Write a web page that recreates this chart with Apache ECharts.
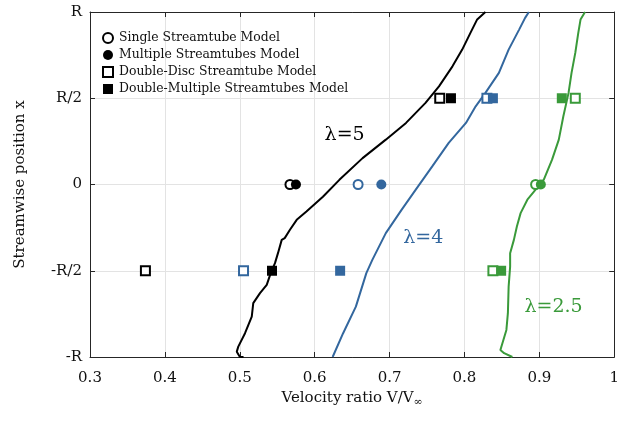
<!DOCTYPE html>
<html>
<head>
<meta charset="utf-8">
<script src="https://cdn.jsdelivr.net/npm/echarts@6/dist/echarts.min.js"></script>
<style>
  html, body { margin: 0; padding: 0; background: #fff; }
  #chart { width: 622px; height: 423px; }
</style>
</head>
<body>
<div id="chart"></div>
<script>
// velocity ratio profiles along the streamwise position, three tip speed ratios
const yTickValues = [-1, -0.5, 0, 0.5, 1];
const yTickLabels = ['-R', '-R/2', '0', 'R/2', 'R'];

const curveNames = ['λ=5', 'λ=4', 'λ=2.5'];
const curveColors = ['#000000', '#33679e', '#3a9a3a'];

// [V/Vinf, x/R]
const curve5 = [
  [0.505, -1.0], [0.500, -0.999], [0.496, -0.969], [0.498, -0.940], [0.507, -0.862],
  [0.516, -0.766], [0.518, -0.688], [0.527, -0.630], [0.536, -0.582], [0.542, -0.505],
  [0.547, -0.456], [0.551, -0.398], [0.556, -0.321], [0.560, -0.311], [0.567, -0.262],
  [0.576, -0.205], [0.589, -0.157], [0.611, -0.071], [0.633, 0.027], [0.664, 0.153],
  [0.695, 0.260], [0.722, 0.357], [0.748, 0.473], [0.766, 0.569], [0.784, 0.685],
  [0.797, 0.782], [0.808, 0.879], [0.817, 0.957], [0.828, 1.0]
];
const curve4 = [
  [0.624, -1.0], [0.638, -0.862], [0.655, -0.708], [0.669, -0.514], [0.677, -0.437],
  [0.695, -0.282], [0.716, -0.147], [0.735, -0.030], [0.757, 0.105], [0.779, 0.241],
  [0.802, 0.357], [0.815, 0.453], [0.828, 0.531], [0.846, 0.647], [0.859, 0.782],
  [0.873, 0.898], [0.881, 0.966], [0.886, 1.0]
];
const curve25 = [
  [0.864, -1.0], [0.853, -0.978], [0.848, -0.959], [0.856, -0.843], [0.858, -0.746],
  [0.859, -0.592], [0.861, -0.476], [0.861, -0.399], [0.866, -0.321], [0.870, -0.243],
  [0.875, -0.166], [0.884, -0.088], [0.895, -0.030], [0.906, 0.028], [0.917, 0.144],
  [0.926, 0.260], [0.932, 0.394], [0.939, 0.531], [0.943, 0.647], [0.948, 0.763],
  [0.952, 0.879], [0.955, 0.956], [0.961, 1.0]
];

// model results, one value per curve (λ=5, λ=4, λ=2.5)
const singleAt0 = [0.567, 0.658, 0.895];
const multipleAt0 = [0.575, 0.689, 0.902];
const ddsAtHalf = [0.767, 0.830, 0.948];
const ddsAtMinusHalf = [0.374, 0.505, 0.838];
const dmsAtHalf = [0.782, 0.838, 0.930];
const dmsAtMinusHalf = [0.543, 0.634, 0.849];

// label anchors for the curves
const curveLabelPos = [[0.640, 0.288], [0.745, -0.312], [0.919, -0.713]];

const FONT = 'DejaVu Serif';

function markers(groups, filled) {
  const out = [];
  groups.forEach((g) => {
    g.xs.forEach((x, i) => {
      out.push({
        value: [x, g.y],
        itemStyle: filled
          ? { color: curveColors[i], opacity: 1 }
          : { color: '#ffffff', borderColor: curveColors[i], borderWidth: 2, opacity: 1 },
      });
    });
  });
  return out;
}

const chart = echarts.init(document.getElementById('chart'));

const axisLineStyle = { color: '#262626', width: 1 };

const lineSeries = [curve5, curve4, curve25].map((d, i) => ({
  type: 'line',
  data: d,
  showSymbol: false,
  symbol: 'none',
  lineStyle: { color: curveColors[i], width: 2 },
  silent: true,
  z: 2,
  markPoint: {
    symbol: 'circle',
    symbolSize: 1,
    itemStyle: { color: 'rgba(0,0,0,0)' },
    label: {
      show: true,
      position: 'inside',
      formatter: curveNames[i],
      color: curveColors[i],
      fontFamily: FONT,
      fontSize: 19,
    },
    data: [{ coord: curveLabelPos[i] }],
  },
}));

const option = {
  animation: false,
  grid: { left: 90, right: 6, top: 12, bottom: 66 },
  legend: {
    orient: 'vertical',
    left: 97,
    top: 27,
    itemWidth: 10,
    itemHeight: 10,
    itemGap: 5,
    textStyle: { fontFamily: FONT, fontSize: 12.4, color: '#111', padding: [0, 0, 0, 1] },
    data: [
      'Single Streamtube Model',
      'Multiple Streamtubes Model',
      'Double-Disc Streamtube Model',
      'Double-Multiple Streamtubes Model',
    ],
  },
  xAxis: [
    {
      type: 'value',
      min: 0.3,
      max: 1,
      interval: 0.1,
      name: 'Velocity ratio V/V{sub|∞}',
      nameLocation: 'middle',
      nameGap: 30,
      nameTextStyle: {
        fontFamily: FONT,
        fontSize: 15,
        color: '#111',
        rich: { sub: { fontFamily: FONT, fontSize: 11, color: '#111', padding: [7, 0, 0, 0] } },
      },
      axisLine: { show: true, onZero: false, lineStyle: axisLineStyle },
      axisTick: { show: true, inside: true, length: 5, lineStyle: axisLineStyle },
      axisLabel: { fontFamily: FONT, fontSize: 15, color: '#111', margin: 14 },
      splitLine: { show: true, lineStyle: { color: '#e3e3e3', width: 1 } },
    },
    {
      type: 'value',
      position: 'top',
      min: 0.3,
      max: 1,
      interval: 0.1,
      axisLine: { show: true, onZero: false, lineStyle: axisLineStyle },
      axisTick: { show: true, inside: true, length: 5, lineStyle: axisLineStyle },
      axisLabel: { show: false },
      splitLine: { show: false },
    },
  ],
  yAxis: [
    {
      type: 'value',
      min: -1,
      max: 1,
      interval: 0.5,
      name: 'Streamwise position x',
      nameLocation: 'middle',
      nameGap: 62,
      nameTextStyle: { fontFamily: FONT, fontSize: 15, color: '#111' },
      axisLine: { show: true, onZero: false, lineStyle: axisLineStyle },
      axisTick: { show: true, inside: true, length: 5, lineStyle: axisLineStyle },
      axisLabel: {
        fontFamily: FONT,
        fontSize: 15,
        color: '#111',
        margin: 8,
        formatter: (v) => {
          const k = yTickValues.findIndex((t) => Math.abs(t - v) < 1e-6);
          return k >= 0 ? yTickLabels[k] : '';
        },
      },
      splitLine: { show: true, lineStyle: { color: '#e3e3e3', width: 1 } },
    },
    {
      type: 'value',
      position: 'right',
      min: -1,
      max: 1,
      interval: 0.5,
      axisLine: { show: true, onZero: false, lineStyle: axisLineStyle },
      axisTick: { show: true, inside: true, length: 5, lineStyle: axisLineStyle },
      axisLabel: { show: false },
      splitLine: { show: false },
    },
  ],
  series: [
    ...lineSeries,
    {
      name: 'Single Streamtube Model',
      type: 'scatter',
      symbol: 'circle',
      symbolSize: 9,
      itemStyle: { color: '#ffffff', borderColor: '#000000', borderWidth: 2, opacity: 1 },
      data: markers([{ xs: singleAt0, y: 0 }], false),
      z: 3,
    },
    {
      name: 'Multiple Streamtubes Model',
      type: 'scatter',
      symbol: 'circle',
      symbolSize: 10,
      itemStyle: { color: '#000000', opacity: 1 },
      data: markers([{ xs: multipleAt0, y: 0 }], true),
      z: 4,
    },
    {
      name: 'Double-Disc Streamtube Model',
      type: 'scatter',
      symbol: 'rect',
      symbolSize: 9,
      itemStyle: { color: '#ffffff', borderColor: '#000000', borderWidth: 2, opacity: 1 },
      data: markers([{ xs: ddsAtHalf, y: 0.5 }, { xs: ddsAtMinusHalf, y: -0.5 }], false),
      z: 5,
    },
    {
      name: 'Double-Multiple Streamtubes Model',
      type: 'scatter',
      symbol: 'rect',
      symbolSize: 10,
      itemStyle: { color: '#000000', opacity: 1 },
      data: markers([{ xs: dmsAtHalf, y: 0.5 }, { xs: dmsAtMinusHalf, y: -0.5 }], true),
      z: 6,
    },
  ],
};

chart.setOption(option);
</script>
</body>
</html>
